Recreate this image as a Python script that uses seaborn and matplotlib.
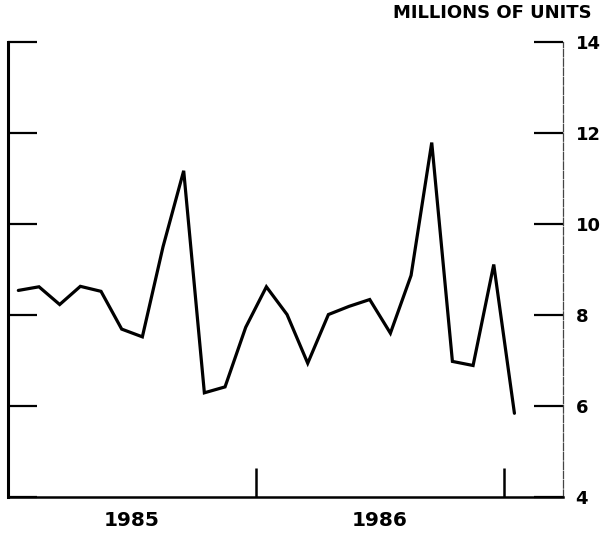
import matplotlib
matplotlib.use("Agg")
import matplotlib.pyplot as plt
import seaborn as sns
import pandas as pd
import numpy as np

# Data: monthly values, Jan 1985 .. Jan 1987 (millions of units)
months = list(range(25))
values = [8.54, 8.62, 8.23, 8.63, 8.52, 7.69, 7.52, 9.5, 11.17, 6.29,
          6.42, 7.73, 8.62, 8.01, 6.94, 8.01, 8.19, 8.34, 7.60, 8.87,
          11.79, 6.98, 6.89, 9.11, 5.84]
year_labels = ["1985", "1986"]
y_ticks = [4, 6, 8, 10, 12, 14]
y_label = "MILLIONS OF UNITS"

sns.set_style("white")
plt.rcParams['font.family'] = ['DejaVu Sans']
plt.rcParams['font.weight'] = 'bold'
plt.rcParams['text.color'] = 'black'
plt.rcParams['xtick.color'] = 'black'
plt.rcParams['ytick.color'] = 'black'
plt.rcParams['axes.edgecolor'] = 'black'

df = pd.DataFrame({"month": [m + 0.5 for m in months], "value": values})

fig = plt.figure(figsize=(6.03, 5.36), dpi=100)
ax = fig.add_axes([8/603, 39/536, (563-8)/603, (497-42)/536])

sns.lineplot(data=df, x="month", y="value", ax=ax, color="black",
             linewidth=2.3, solid_joinstyle="miter")

ax.set_xlim(0, 26.85)
ax.set_ylim(4, 14)
ax.set_xlabel("")
ax.set_ylabel("")

# spines
ax.spines['top'].set_visible(False)
ax.spines['left'].set_linewidth(2.2)
ax.spines['bottom'].set_linewidth(1.8)
ax.spines['right'].set_linewidth(0.9)
ax.spines['right'].set_color("#444444")
ax.spines['right'].set_linestyle((0, (6, 1.5)))
for s in ax.spines.values():
    s.set_capstyle("projecting")

# y ticks
ax.set_yticks(y_ticks)
ax.set_yticklabels([str(t) for t in y_ticks])
ax.set_yticks([14], minor=True)
ax.tick_params(axis='y', which='major', direction='in', left=True, right=True,
               labelleft=False, labelright=True, length=21, width=1.6,
               pad=9, labelsize=13, colors='black')
ax.tick_params(axis='y', which='minor', direction='in', left=True, right=True,
               length=28, width=1.6)

# x ticks: year boundaries (major) and year labels (minor)
ax.set_xticks([12, 24])
ax.set_xticklabels(["", ""])
ax.set_xticks([6, 18], minor=True)
ax.set_xticklabels(year_labels, minor=True)
ax.tick_params(axis='x', which='major', direction='in', bottom=True, top=False,
               length=21, width=1.8)
ax.tick_params(axis='x', which='minor', bottom=True, length=0, pad=10,
               labelsize=14.5, colors='black')
for lbl in ax.get_xticklabels(minor=True) + ax.get_yticklabels():
    lbl.set_fontweight('bold')

fig.text(592/603, 1 - 18/536, y_label, ha='right', va='baseline',
         fontsize=13, fontweight='bold', color='black')

fig.savefig("out.png", dpi=100)
